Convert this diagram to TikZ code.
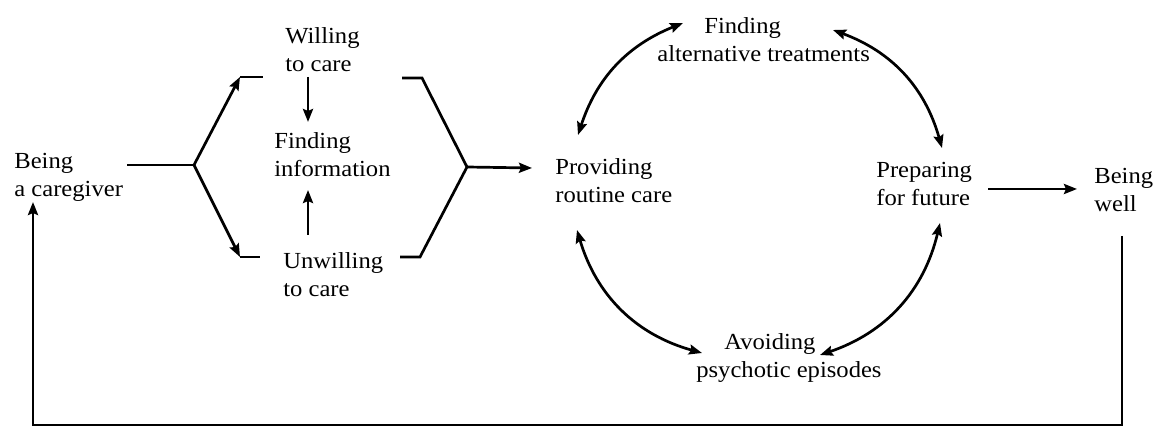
\documentclass[tikz,border=0pt]{standalone}
\usepackage{fontspec}
\setmainfont{Liberation Serif}[FakeStretch=1.07]
\usetikzlibrary{arrows.meta}
\begin{document}
\begin{tikzpicture}[x=1pt,y=-1pt,>={Stealth[length=13pt,width=10pt,inset=2pt]},line width=2.7pt,
	lbl/.style={inner sep=0pt,align=left,anchor=north west,font=\fontsize{23}{28}\selectfont}]
	\useasboundingbox (0,0) rectangle (1163,435);
	% stages
	\node[lbl] (care) at (13,152) {Being\\a caregiver};
	\node[lbl] (will) at (284,26) {Willing\\to care};
	\node[lbl] (info) at (273,131) {Finding\\information};
	\node[lbl] (unwill) at (282,251) {Unwilling\\to care};
	\node[lbl] (prov) at (554,157) {Providing\\routine care};
	\node[lbl] (alt) at (656,16) {\hspace*{47pt}Finding\\alternative treatments};
	\node[lbl] (prep) at (875,161) {Preparing\\for future};
	\node[lbl] (avoid) at (695,332) {\hspace*{28pt}Avoiding\\psychotic episodes};
	\node[lbl] (well) at (1093,167) {Being\\well};
	% brackets
	\coordinate (fork) at (194,165);\coordinate (tl) at (240,77);\coordinate (bl) at (240,257);
	\coordinate (tr) at (422,78);\coordinate (join) at (467,167);\coordinate (br) at (420,257);
	\coordinate (loop) at (33,425);
	\draw ([shift={(114pt,-13pt)}]care.north west) -- (fork);
	\foreach \c in {tl,bl}\draw[->] (fork) -- (\c);
	\draw (tl) -- +(23,0) (bl) -- +(20,0);
	\draw (402,78) -- (tr) -- (join) -- (br) -- (400,257);
	\draw[->] (join) -- ([shift={(-22pt,-11pt)}]prov.north west);
	\draw[->] ([shift={(24pt,-51pt)}]will.north west) -- ([shift={(35pt,9pt)}]info.north west);
	\draw[->] ([shift={(26pt,16pt)}]unwill.north west) -- ([shift={(35pt,-59pt)}]info.north west);
	% cycle
	\draw[<->] ([shift={(24pt,22pt)}]prov.north west) to[bend left=25] ([shift={(27pt,-7pt)}]alt.north west);
	\draw[<->] ([shift={(177pt,-14pt)}]alt.north west) to[bend left=27] ([shift={(67pt,13pt)}]prep.north west);
	\draw[<->] ([shift={(65pt,-62pt)}]prep.north west) to[bend left=29] ([shift={(125pt,-23pt)}]avoid.north west);
	\draw[<->] ([shift={(7pt,-21pt)}]avoid.north west) to[bend left=29] ([shift={(23pt,-73pt)}]prov.north west);
	\draw[->] ([shift={(113pt,-28pt)}]prep.north west) -- ([shift={(-16pt,-22pt)}]well.north west);
	\draw[->] ([shift={(29pt,-69pt)}]well.north west) |- (loop) -- ([shift={(20pt,-50pt)}]care.north west);
\end{tikzpicture}
\end{document}
